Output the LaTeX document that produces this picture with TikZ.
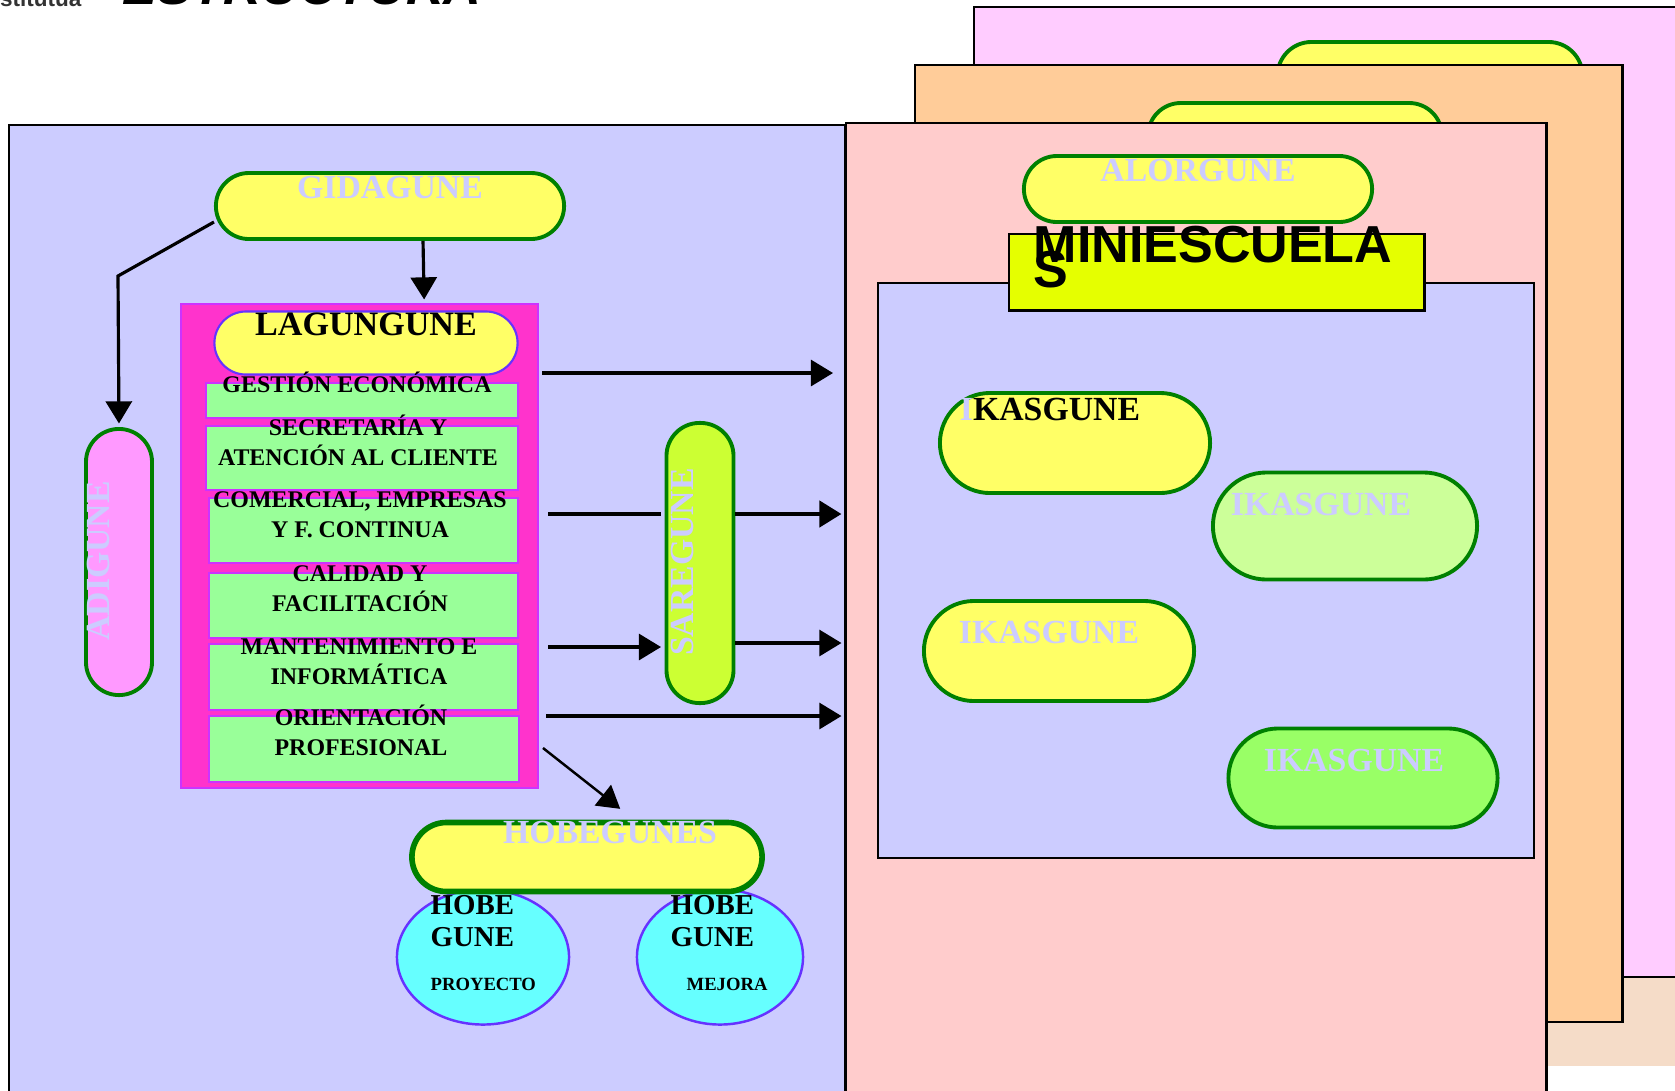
\documentclass[tikz,border=0pt]{standalone}
\usepackage{fontspec}
\setmainfont{Liberation Serif}
\newfontfamily\arialfont{Liberation Sans}
\usetikzlibrary{shapes.misc,shapes.geometric,arrows.meta}

\definecolor{panelblue}{HTML}{CCCCFF}
\definecolor{panelpink}{HTML}{FFCCCC}
\definecolor{panelorange}{HTML}{FFCC99}
\definecolor{panelmagenta}{HTML}{FFCCFF}
\definecolor{capyellow}{HTML}{FFFF66}
\definecolor{capgreen}{HTML}{008000}
\definecolor{lagpink}{HTML}{FF33CC}
\definecolor{lagborder}{HTML}{CC33FF}
\definecolor{unitgreen}{HTML}{99FF99}
\definecolor{hobecyan}{HTML}{66FFFF}
\definecolor{hobeviolet}{HTML}{6633FF}
\definecolor{miniyellow}{HTML}{E5FF00}
\definecolor{sarelime}{HTML}{CCFF33}
\definecolor{adipink}{HTML}{FF99FF}
\definecolor{ikaslight}{HTML}{CCFF99}
\definecolor{ikasgreen}{HTML}{99FF66}
\definecolor{floorshade}{HTML}{F5DCC8}

\begin{document}
\begin{tikzpicture}[x=0.01cm,y=-0.01cm,shorten >=1pt,>={Triangle[length=6.3pt,width=7.4pt]}]
    \tikzstyle{panel}=[rectangle,draw=black,line width=0.7pt,anchor=north west,inner sep=0pt]
    \tikzstyle{capsule}=[rounded rectangle,draw=capgreen,line width=1.1pt,fill=capyellow,inner sep=0pt]
    \tikzstyle{vcapsule}=[rectangle,rounded corners=0.33cm,draw=capgreen,line width=1.1pt,inner sep=0pt,minimum width=0.66cm]
    \tikzstyle{unit}=[rectangle,draw=lagborder,fill=unitgreen,line width=0.5pt,anchor=north west,inner sep=0pt]
    \tikzstyle{unittext}=[font=\bfseries\fontsize{6.8}{8.3}\selectfont,align=center,anchor=base,inner sep=0pt]
    \tikzstyle{ghost}=[text=panelblue,font=\bfseries\fontsize{9.6}{11}\selectfont,anchor=base,inner sep=0pt]
    \tikzstyle{hobe}=[ellipse,draw=hobeviolet,fill=hobecyan,line width=0.7pt,inner sep=0pt,minimum height=1.35cm]
    \tikzstyle{hobetext}=[font=\bfseries\fontsize{8.2}{9.1}\selectfont,align=left,anchor=base west,inner sep=0pt]
    \tikzstyle{link}=[->,line width=0.9pt]
    \useasboundingbox (0,0) rectangle (1675,1090);
    \clip (0,0) rectangle (1675,1090);
    % fondo
    \fill[floorshade] (1540,960) rectangle (1675,1066);
    \node[font=\arialfont\bfseries\itshape\fontsize{14.8}{16}\selectfont,anchor=base west,inner sep=0pt] (title) at (122,4) {ESTRUCTURA};
    \node[font=\arialfont\bfseries\fontsize{6.4}{7}\selectfont,text=black!80,anchor=base east,inner sep=0pt] (logo) at (82,6) {Institutua};
    % miniescuelas de detras
    \node[panel,fill=panelmagenta,minimum width=7.3cm,minimum height=9.69cm] (back) at (973,6) {};
    \node[capsule,minimum width=3.05cm,minimum height=0.68cm] (backcap) at (1430,76) {};
    \node[panel,fill=panelorange,minimum width=7.07cm,minimum height=9.56cm] (middle) at (914,64) {};
    \node[capsule,minimum width=2.94cm,minimum height=0.66cm] (middlecap) at (1295,136) {};
    \node[panel,fill=panelblue,minimum width=8.36cm,minimum height=9.8cm] (left) at (8,124) {};
    \node[panel,fill=panelpink,minimum width=7cm,minimum height=9.8cm] (front) at (845,122) {};
    % miniescuela
    \node[capsule,minimum width=3.48cm,minimum height=0.66cm] (alor) at (1198,189) {};
    \node[ghost] at (1198,181) {ALORGUNE};
    \node[panel,fill=panelblue,line width=0.5pt,minimum width=6.56cm,minimum height=5.75cm] (aula) at (877,282) {};
    \node[panel,fill=miniyellow,minimum width=4.15cm,minimum height=0.76cm] (mini) at (1008,233) {};
    \node[font=\arialfont\bfseries\fontsize{14.8}{7.1}\selectfont,align=left,anchor=base west,inner sep=0pt] (minitext) at (1033,287) {MINIESCUELA\\\smash{S}};
    \node[capsule,minimum width=2.70cm,minimum height=1.00cm] (ikas1) at (1075,443) {};
    \node[capsule,fill=ikaslight,minimum width=2.64cm,minimum height=1.07cm] (ikas2) at (1345,526) {};
    \node[capsule,minimum width=2.70cm,minimum height=1.00cm] (ikas3) at (1059,651) {};
    \node[capsule,fill=ikasgreen,minimum width=2.69cm,minimum height=0.99cm] (ikas4) at (1363,778) {};
    \node[ghost,text=black] at (1050,420) {\textcolor{panelblue}{I}KASGUNE};
    \node[ghost] at (1321,515) {IKASGUNE};
    \node[ghost] at (1049,643) {IKASGUNE};
    \node[ghost] at (1354,771) {IKASGUNE};
    % centro
    \node[capsule,minimum width=3.48cm,minimum height=0.66cm] (gida) at (390,206) {};
    \node[ghost] at (390,198) {GIDAGUNE};
    \node[vcapsule,fill=adipink,minimum height=2.66cm] (adi) at (119,562) {};
    \node[ghost,rotate=90] at (110,561) {ADIGUNE};
    \node[panel,draw=lagborder,fill=lagpink,line width=0.6pt,minimum width=3.57cm,minimum height=4.84cm] (lagbox) at (180,303) {};
    \node[capsule,draw=hobeviolet,line width=0.6pt,minimum width=3.03cm,minimum height=0.63cm] (lag) at (366,343) {};
    \node[font=\bfseries\fontsize{9.7}{11}\selectfont,anchor=base,inner sep=0pt] at (366,335) {LAGUNGUNE};
    \node[unit,minimum width=3.12cm,minimum height=0.35cm] (u1) at (205,382) {};
    \node[unit,minimum width=3.12cm,minimum height=0.64cm] (u2) at (205,425) {};
    \node[unit,minimum width=3.09cm,minimum height=0.65cm] (u3) at (208,497) {};
    \node[unit,minimum width=3.09cm,minimum height=0.65cm] (u4) at (208,572) {};
    \node[unit,minimum width=3.09cm,minimum height=0.66cm] (u5) at (208,643) {};
    \node[unit,minimum width=3.10cm,minimum height=0.66cm] (u6) at (208,715) {};
    \node[unittext] at (357,392) {GESTIÓN ECONÓMICA};
    \node[unittext] at (358,465) {SECRETARÍA Y\\ATENCIÓN AL CLIENTE};
    \node[unittext] at (360,537) {COMERCIAL, EMPRESAS\\Y F. CONTINUA};
    \node[unittext] at (360,611) {CALIDAD Y\\FACILITACIÓN};
    \node[unittext] at (359,684) {MANTENIMIENTO E\\INFORMÁTICA};
    \node[unittext] at (361,755) {ORIENTACIÓN\\PROFESIONAL};
    \node[vcapsule,fill=sarelime,minimum width=0.67cm,minimum height=2.80cm] (sare) at (700,563) {};
    \node[ghost,rotate=90] at (693,562) {SAREGUNE};
    % hobegunes
    \node[hobe,minimum width=1.72cm] (proyecto) at (483,957) {};
    \node[hobe,minimum width=1.66cm] (mejora) at (720,957) {};
    \node[capsule,line width=1.6pt,minimum width=3.50cm,minimum height=0.69cm] (hobes) at (587,857) {};
    \node[ghost] at (610,843) {HOBEGUNES};
    \node[hobetext] at (430,946) {HOBE\\GUNE};
    \node[hobetext] at (670,946) {HOBE\\GUNE};
    \node[font=\bfseries\fontsize{5.3}{6}\selectfont,anchor=base west,inner sep=0pt] at (430,990) {PROYECTO};
    \node[font=\bfseries\fontsize{5.3}{6}\selectfont,anchor=base west,inner sep=0pt] at (686,990) {MEJORA};
    % flechas
    \coordinate (bend) at (118,276);
    \coordinate (g1) at (542,373);
    \coordinate (g2) at (548,514);
    \coordinate (g3) at (548,647);
    \coordinate (g4) at (546,716);
    \coordinate (g5) at (543,748);
    \coordinate (hobetip) at (623,811);
    \draw[link] ([xshift=0.33cm]gida.south) -- ([xshift=0.645cm]lagbox.north);
    \draw[link] ([yshift=-0.16cm]gida.west) -- (bend) -- (adi.north);
    \draw[link,shorten >=3.4pt] (g1) -- (g1 -| front.west);
    \draw[line width=1.3pt] (g2) -- (g2 -| sare.west);
    \draw[link,line width=1.3pt] (g2 -| sare.east) -- (g2 -| front.west);
    \draw[link] (g3) -- (g3 -| sare.west);
    \draw[link] ([yshift=0.04cm]g3 -| sare.east) -- ([yshift=0.04cm]g3 -| front.west);
    \draw[link] (g4) -- (g4 -| front.west);
    \draw[link,line width=0.7pt] (g5) -- (hobetip);
\end{tikzpicture}
\end{document}
